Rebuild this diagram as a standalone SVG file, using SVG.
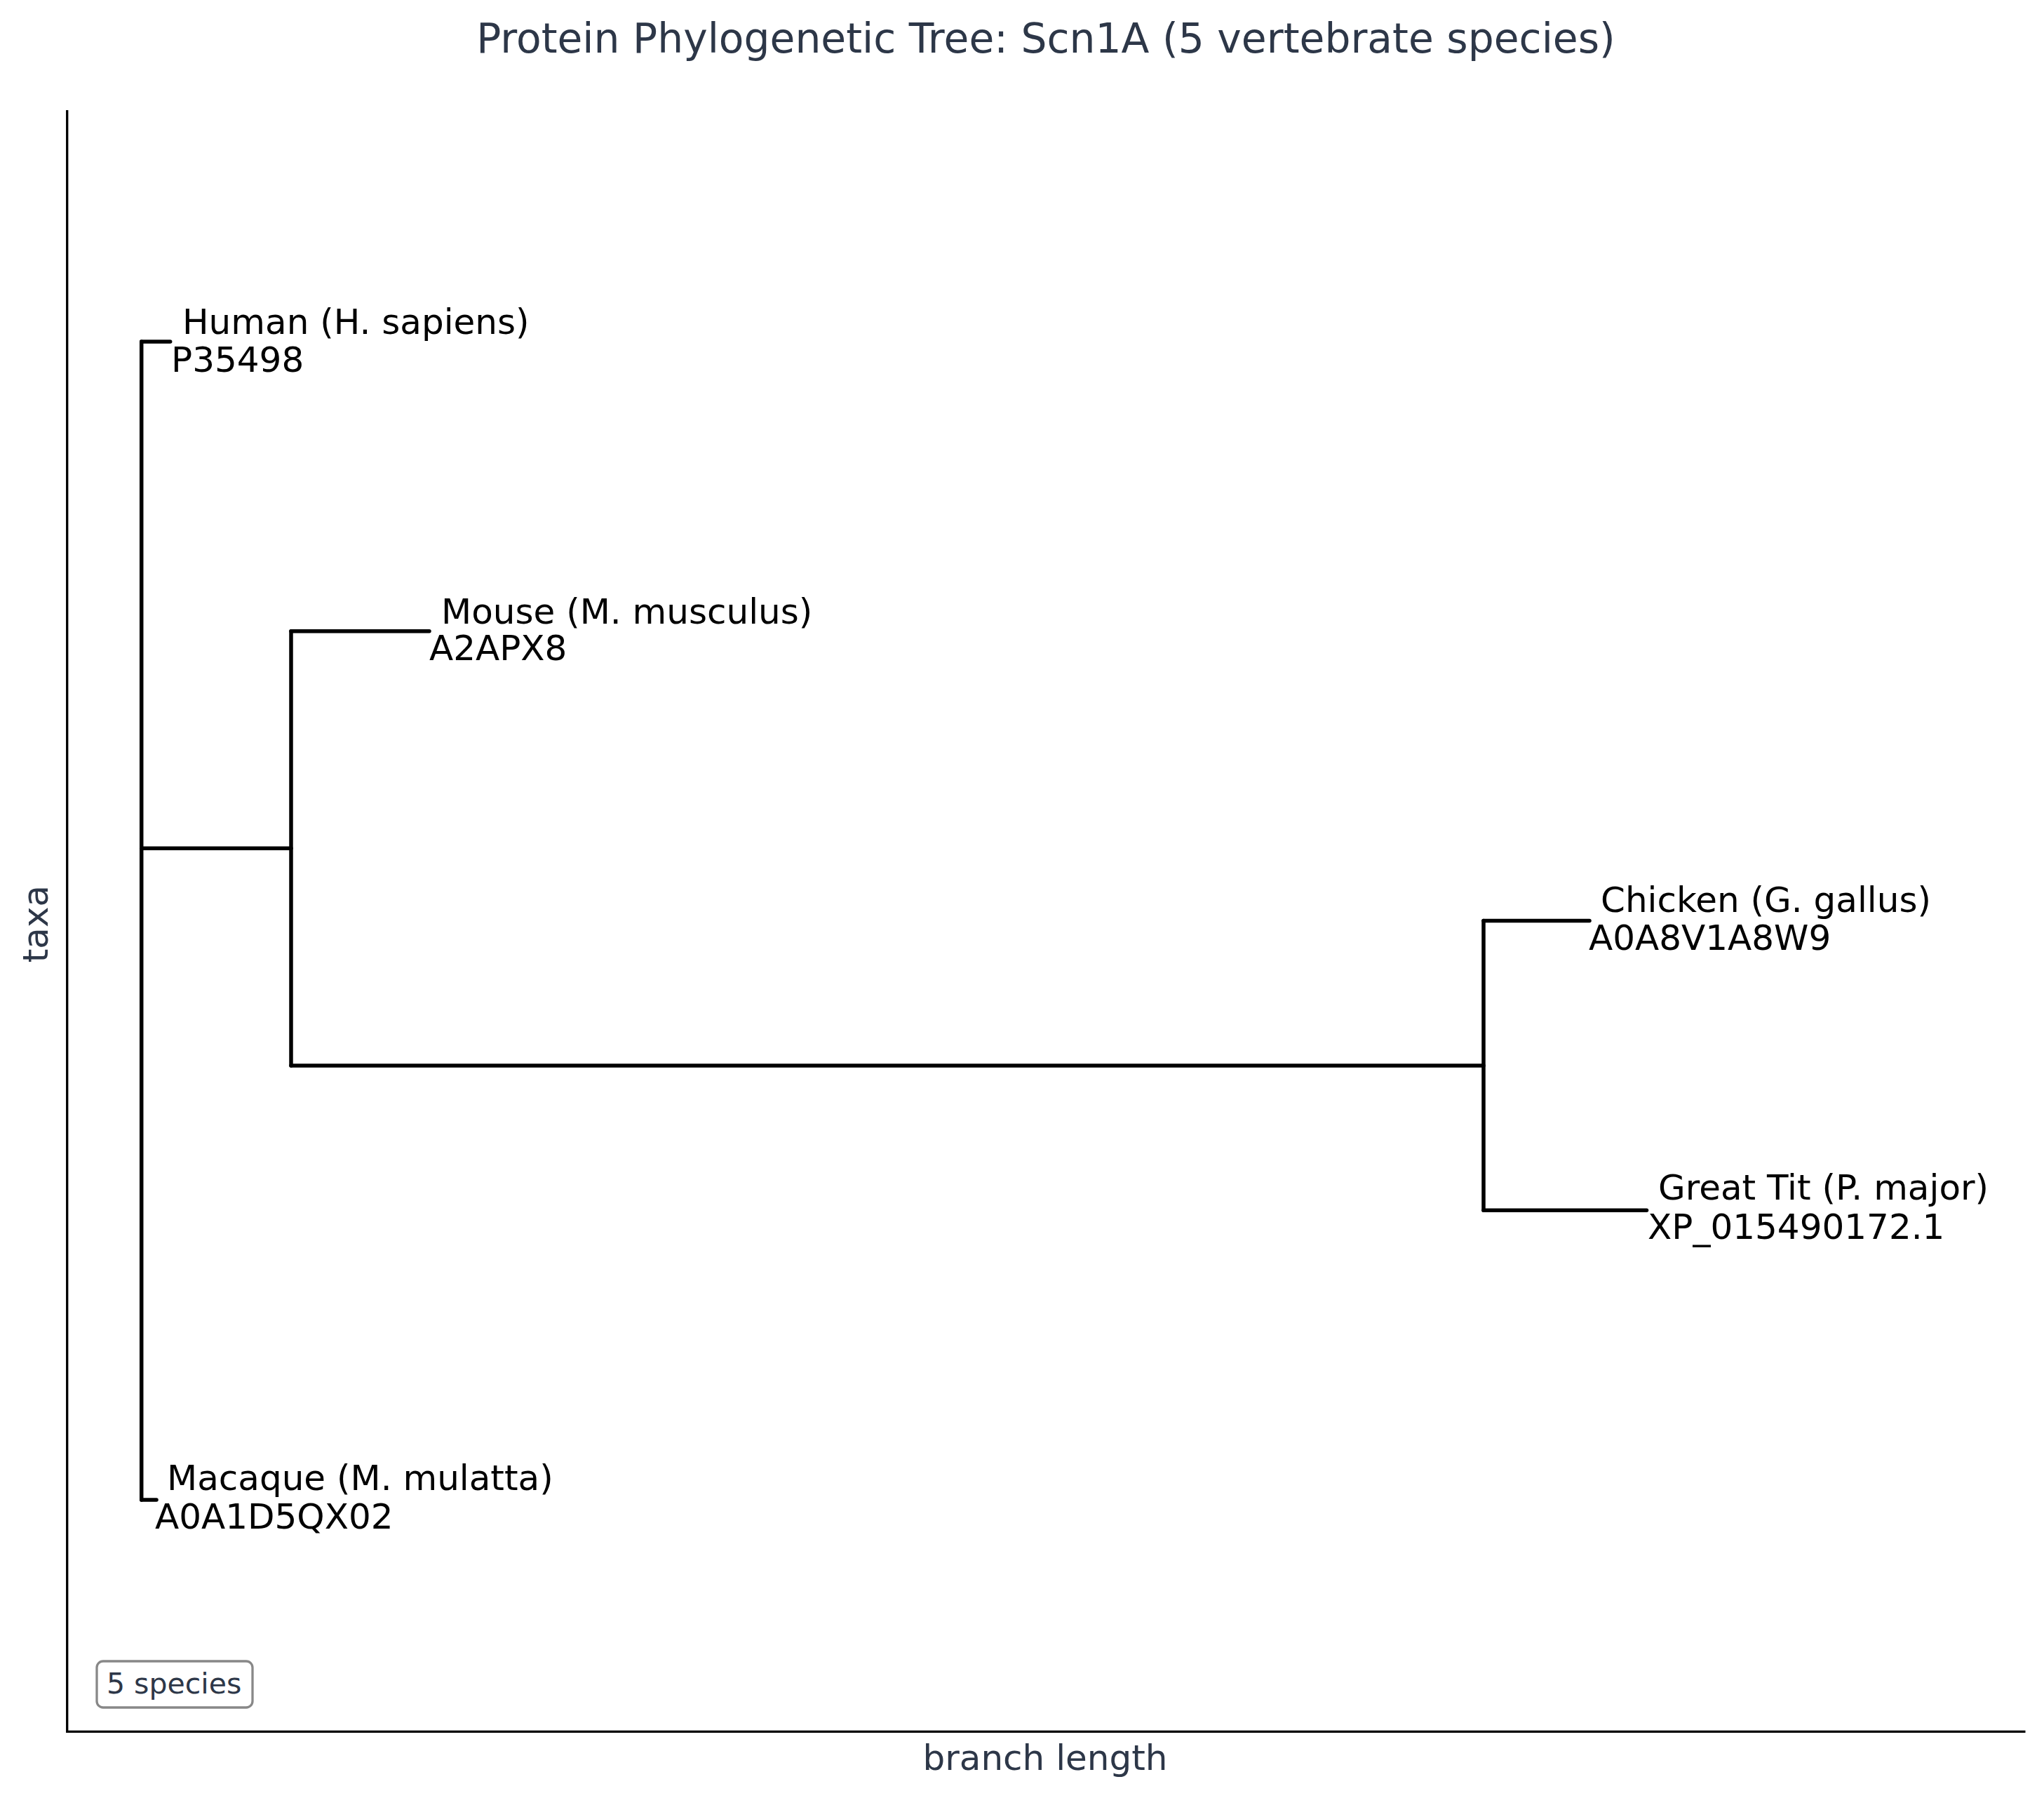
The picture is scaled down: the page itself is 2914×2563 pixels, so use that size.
<svg xmlns="http://www.w3.org/2000/svg" width="2914" height="2563" viewBox="0 0 2914 2563">
<style>
.t{font-family:"DejaVu Sans","Liberation Sans",sans-serif;}
.lbl{font-size:50px;fill:#000000;}
.ax{font-size:50px;fill:#2d3748;}
.br{stroke:#000000;stroke-width:5.5;stroke-linecap:round;fill:none;}
.sp{stroke:#000000;stroke-width:3.3;fill:none;}
</style>
<rect x="0" y="0" width="2914" height="2563" fill="#ffffff"/>
<text class="t" x="1491" y="75" font-size="58.3" fill="#2d3748" text-anchor="middle">Protein Phylogenetic Tree: Scn1A (5 vertebrate species)</text>
<g id="axes">
<path class="sp" d="M95.7,157 L95.7,2468.3 L2887.5,2468.3"/>
<text class="t ax" x="1490" y="2523" text-anchor="middle">branch length</text>
<text class="t ax" x="68.3" y="1317" text-anchor="middle" transform="rotate(-90 68.3 1317)">taxa</text>
</g>
<g id="connectors">
<line class="br" x1="201.7" y1="487" x2="201.7" y2="2138"/>
<line class="br" x1="201.7" y1="1209.3" x2="415" y2="1209.3"/>
<line class="br" x1="415" y1="899.8" x2="415" y2="1518.9"/>
<line class="br" x1="415" y1="1518.9" x2="2115" y2="1518.9"/>
<line class="br" x1="2115" y1="1312.5" x2="2115" y2="1725.3"/>
</g>
<g id="human">
<line class="br" x1="201.7" y1="487" x2="242.7" y2="487"/>
<text class="t lbl"><tspan x="260" y="476">Human (H. sapiens)</tspan><tspan x="244" y="530">P35498</tspan></text>
</g>
<g id="mouse">
<line class="br" x1="415" y1="899.8" x2="612" y2="899.8"/>
<text class="t lbl"><tspan x="629" y="889">Mouse (M. musculus)</tspan><tspan x="612" y="941">A2APX8</tspan></text>
</g>
<g id="chicken">
<line class="br" x1="2115" y1="1312.5" x2="2266" y2="1312.5"/>
<text class="t lbl"><tspan x="2282" y="1300">Chicken (G. gallus)</tspan><tspan x="2265" y="1354">A0A8V1A8W9</tspan></text>
</g>
<g id="greattit">
<line class="br" x1="2115" y1="1725.3" x2="2347.5" y2="1725.3"/>
<text class="t lbl"><tspan x="2364" y="1710">Great Tit (P. major)</tspan><tspan x="2349" y="1766">XP_015490172.1</tspan></text>
</g>
<g id="macaque">
<line class="br" x1="201.7" y1="2138" x2="223" y2="2138"/>
<text class="t lbl"><tspan x="238" y="2124">Macaque (M. mulatta)</tspan><tspan x="221" y="2179">A0A1D5QX02</tspan></text>
</g>
<g id="species-count">
<rect x="138" y="2368" width="222" height="66" rx="9" ry="9" fill="#ffffff" stroke="#888888" stroke-width="3.3"/>
<text class="t" x="152" y="2414" font-size="41" fill="#2d3748">5 species</text>
</g>
</svg>
